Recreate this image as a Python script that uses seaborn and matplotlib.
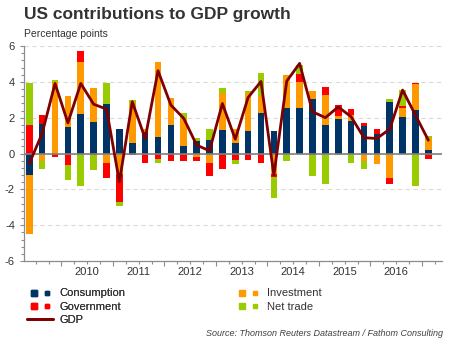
import matplotlib
matplotlib.use("Agg")
import matplotlib.pyplot as plt
from matplotlib.lines import Line2D
from matplotlib.legend_handler import HandlerTuple
from matplotlib.ticker import FixedLocator, MultipleLocator, NullFormatter
import numpy as np
import pandas as pd
import seaborn as sns

# Quarterly contributions to US real GDP growth (percentage points, annualised), 2009Q2-2017Q1
quarters = [f"{y}Q{q}" for y in range(2009, 2018) for q in range(1, 5)][1:33]
consumption = [-1.21, 1.64, 0.00, 1.49, 2.20, 1.75, 2.76, 1.36, 0.58, 1.19, 0.91, 1.58,
               0.41, 0.69, 0.74, 1.32, 0.58, 1.25, 2.25, 1.25, 2.53, 2.53, 3.04, 1.58,
               1.92, 1.81, 1.55, 1.08, 2.87, 2.03, 2.42, 0.19]
investment = [-3.26, -0.43, 4.00, 1.71, 2.90, 1.90, -0.52, -1.12, 2.25, 0.15, 4.19, 1.51,
              1.56, -0.19, -0.52, 2.03, 0.78, 2.14, 0.97, -1.15, 1.85, 1.46, 0.44, 1.68,
              0.18, 0.33, -0.43, -0.58, -1.38, 0.50, 1.45, 0.70]
government = [1.58, 0.50, -0.19, -0.65, 0.62, -0.10, -0.84, -1.58, -0.09, -0.52, -0.30, -0.41,
              -0.41, -0.22, -0.73, -0.86, -0.34, -0.35, -0.52, -0.17, 0.00, 0.46, -0.09, 0.44,
              0.58, 0.34, 0.14, 0.28, -0.33, 0.11, 0.06, -0.30]
net_trade = [2.37, -0.45, 0.10, -0.84, -1.80, -0.83, 1.17, -0.22, 0.15, 0.00, -0.22, 0.00,
             0.28, 0.15, 0.62, 0.30, -0.24, 0.09, 1.27, -1.16, -0.41, 0.48, -1.18, -1.71,
             -0.09, -0.52, -0.43, 0.00, 0.17, 0.90, -1.81, 0.08]
gdp = [-0.56, 1.12, 3.91, 1.71, 3.91, 2.75, 2.48, -1.58, 2.89, 0.84, 4.62, 2.70,
       1.96, 0.47, 0.15, 2.79, 0.80, 3.13, 4.02, -1.21, 4.04, 5.03, 2.33, 2.00,
       2.60, 2.05, 0.88, 0.84, 1.36, 3.54, 2.14, 0.74]
year_labels = ["2010", "2011", "2012", "2013", "2014", "2015", "2016"]

series = ["Consumption", "Investment", "Government", "Net trade"]
palette = {"Consumption": "#003366", "Investment": "#ff9900",
           "Government": "#ff0000", "Net trade": "#99cc00"}
gdp_color = "#800000"
text_color = "#333333"
axis_color = "#8c8c8c"

sns.set_theme(style="ticks")
plt.rcParams["font.family"] = ["Liberation Sans", "DejaVu Sans"]

W, H = 451, 342
fig = plt.figure(figsize=(W / 100, H / 100), dpi=100)
ax = fig.add_axes([24 / W, 1 - 261 / H, (442 - 24) / W, (261 - 46) / H])

comp = pd.DataFrame({"Consumption": consumption, "Investment": investment,
                     "Government": government, "Net trade": net_trade})
pos = comp.clip(lower=0).cumsum(axis=1)
neg = comp.clip(upper=0).cumsum(axis=1)
xpos = np.arange(len(quarters))

# stacked columns: draw cumulative totals from the outermost layer inwards
for name in reversed(series):
    for stack in (pos, neg):
        sns.barplot(x=xpos, y=stack[name].values, orient="x", native_scale=True,
                    color=palette[name], saturation=1, width=0.52, errorbar=None,
                    linewidth=0, ax=ax, zorder=2)

ax.axhline(0, color="#808080", lw=1.2, zorder=3)
sns.lineplot(x=xpos, y=gdp, color=gdp_color, lw=2.0, ax=ax, zorder=4)

ax.set_xlim(-0.41, 32.06)
ax.set_ylim(-6, 6)

# y axis
ax.yaxis.set_major_locator(MultipleLocator(2))
ax.yaxis.set_minor_locator(MultipleLocator(0.4))
ax.set_yticklabels([f"{v:g}" for v in ax.get_yticks()])
ax.grid(axis="y", ls=(0, (4, 3)), color="#dadada", lw=0.8, zorder=0)
ax.set_axisbelow(True)

# x axis: quarter ticks, longer ticks at year boundaries, year names centred
ax.xaxis.set_major_locator(FixedLocator(np.arange(2.5, 32, 4)))
ax.xaxis.set_minor_locator(FixedLocator(np.arange(0.5, 32, 1)))
ax.xaxis.set_major_formatter(NullFormatter())
for i, lab in enumerate(year_labels):
    ax.text(4.5 + 4 * i, -0.028, lab, transform=ax.get_xaxis_transform(),
            ha="center", va="top", fontsize=8, color=text_color)

ax.tick_params(axis="both", which="both", direction="out", color=axis_color,
               width=0.8, labelsize=8, labelcolor=text_color)
ax.tick_params(axis="y", which="major", length=3, pad=3.5)
ax.tick_params(axis="y", which="minor", length=2.5)
ax.tick_params(axis="x", which="major", length=3.5)
ax.tick_params(axis="x", which="minor", length=2)
ax.set_xlabel("")
ax.set_ylabel("")
sns.despine(ax=ax)
for side in ("left", "bottom"):
    ax.spines[side].set_color(axis_color)
    ax.spines[side].set_linewidth(0.9)

# titles
fig.text(24 / W, 1 - 19.5 / H, "US contributions to GDP growth", fontsize=12.5,
         fontweight="bold", color=text_color, va="baseline", ha="left")
fig.text(24 / W, 1 - 37 / H, "Percentage points", fontsize=7.5,
         color=text_color, va="baseline", ha="left")

# legend
def pair(name):
    big = Line2D([], [], ls="none", marker="s", markersize=5, color=palette[name])
    small = Line2D([], [], ls="none", marker="s", markersize=3.5, color=palette[name])
    return (big, small)

leg_kw = dict(loc="upper left", frameon=False, fontsize=8, handlelength=2.35,
              handletextpad=0.55, labelspacing=0.28, borderpad=0, borderaxespad=0,
              handler_map={tuple: HandlerTuple(ndivide=None, pad=0)},
              labelcolor=text_color)
leg1 = fig.legend([pair("Consumption"), pair("Government"),
                   Line2D([], [], color=gdp_color, lw=2.0)],
                  ["Consumption", "Government", "GDP"],
                  bbox_to_anchor=(27 / W, 1 - 288.5 / H), **leg_kw)
fig.add_artist(leg1)
fig.legend([pair("Investment"), pair("Net trade")], ["Investment", "Net trade"],
           bbox_to_anchor=(235 / W, 1 - 288.5 / H), **leg_kw)

fig.text(443 / W, 1 - 336 / H, "Source: Thomson Reuters Datastream / Fathom Consulting",
         fontsize=6.5, style="italic", color="#404040", ha="right", va="baseline")

fig.savefig("out.png", dpi=100)
